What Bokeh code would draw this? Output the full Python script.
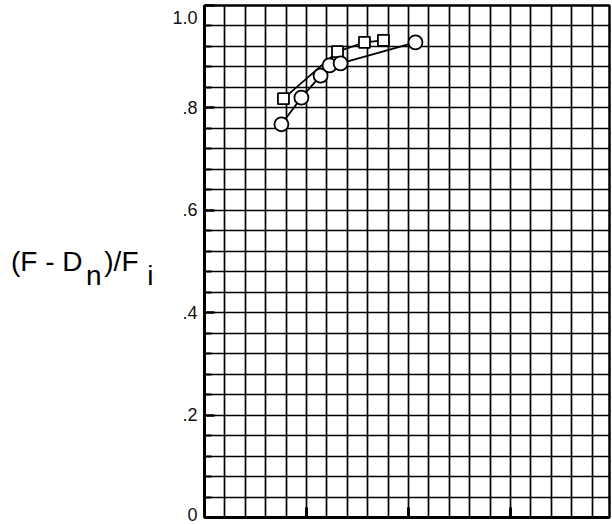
from bokeh.plotting import figure
from bokeh.models import Range1d, FixedTicker, SingleIntervalTicker, LinearAxis
from bokeh.embed import file_html
from bokeh.resources import INLINE

# ---- data ----
circle_x = [0.377, 0.475, 0.569, 0.613, 0.667, 1.034]
circle_y = [0.768, 0.820, 0.863, 0.883, 0.887, 0.928]
square_x = [0.387, 0.652, 0.784, 0.877]
square_y = [0.818, 0.910, 0.928, 0.932]

y_ticks = [0.0, 0.2, 0.4, 0.6, 0.8, 1.0]
y_tick_labels = ["0", ".2", ".4", ".6", ".8", "1.0"]
y_minor = [0.04, 0.08, 0.12, 0.16, 0.24, 0.28, 0.32, 0.36, 0.44, 0.48, 0.52, 0.56,
           0.64, 0.68, 0.72, 0.76, 0.84, 0.88, 0.92, 0.96]
x_major = [0.5, 1.0, 1.5]

# y title pieces: (text, is_subscript), written left to right
title_pieces = [("(F - D", False), ("n", True), (")/F", False), ("i", True)]

FONT = "Liberation Sans"

p = figure(width=612, height=524, output_backend="svg", toolbar_location=None,
           x_range=Range1d(0, 1.985), y_range=Range1d(0, 1.0),
           min_border_left=204, min_border_right=3, min_border_top=5, min_border_bottom=7)
p.background_fill_color = "white"
p.border_fill_color = "white"
p.outline_line_color = "black"
p.outline_line_width = 2.5

# grid
p.xgrid.ticker = SingleIntervalTicker(interval=0.1)
p.ygrid.ticker = SingleIntervalTicker(interval=0.04)
for g in (p.xgrid, p.ygrid):
    g.grid_line_color = "black"
    g.grid_line_width = 1.7
    g.grid_line_alpha = 1.0

# left axis
ya = p.yaxis[0]
ya.ticker = FixedTicker(ticks=y_ticks, minor_ticks=y_minor)
overrides = {t: l for t, l in zip(y_ticks, y_tick_labels)}
overrides[y_ticks[-1]] = "\n" + y_tick_labels[-1]   # top label sits a bit lower
ya.major_label_overrides = overrides
ya.axis_line_width = 3
ya.axis_line_color = "black"
ya.major_tick_in = 10
ya.major_tick_out = 0
ya.minor_tick_in = 7
ya.minor_tick_out = 0
ya.major_tick_line_width = 2.5
ya.minor_tick_line_width = 2
ya.major_tick_line_color = "black"
ya.minor_tick_line_color = "black"
ya.major_label_standoff = 7
ya.major_label_text_font = FONT
ya.major_label_text_font_size = "18px"
ya.major_label_text_color = "#111111"
ya.major_label_text_line_height = 0.38

# y title built from stacked, tick-less left axes (innermost first)
standoffs = {"i": 16, ")/F": 6, "n": 0, "(F - D": 0}
for txt, sub in reversed(title_pieces):
    ax = LinearAxis(ticker=FixedTicker(ticks=[], minor_ticks=[]))
    ax.axis_label = ("\n" + txt) if sub else txt
    ax.axis_label_orientation = "horizontal"
    ax.axis_label_standoff = standoffs[txt]
    ax.axis_label_text_font = FONT
    ax.axis_label_text_font_size = "28px"
    ax.axis_label_text_font_style = "normal"
    ax.axis_label_text_color = "black"
    ax.axis_label_text_line_height = 0.92
    ax.axis_line_color = None
    ax.major_tick_line_color = None
    ax.minor_tick_line_color = None
    ax.major_tick_out = 0
    ax.major_tick_in = 0
    ax.minor_tick_out = 0
    ax.major_label_standoff = 0
    p.add_layout(ax, "left")

# bottom axis
xa = p.xaxis[0]
xa.ticker = FixedTicker(ticks=x_major, minor_ticks=[])
xa.axis_line_width = 3
xa.axis_line_color = "black"
xa.major_tick_in = 10
xa.major_tick_out = 0
xa.major_tick_line_width = 3
xa.major_tick_line_color = "black"
xa.minor_tick_line_color = None
xa.major_label_overrides = {t: "" for t in x_major}
xa.major_label_standoff = 0

# data
p.line(circle_x, circle_y, line_color="black", line_width=1.8)
p.line(square_x, square_y, line_color="black", line_width=1.8)
p.scatter(square_x, square_y, marker="square", size=11, fill_color="white",
          line_color="black", line_width=1.8)
p.scatter(circle_x, circle_y, marker="circle", size=14, fill_color="white",
          line_color="black", line_width=1.8)

open("out.html", "w").write(file_html(p, INLINE))
